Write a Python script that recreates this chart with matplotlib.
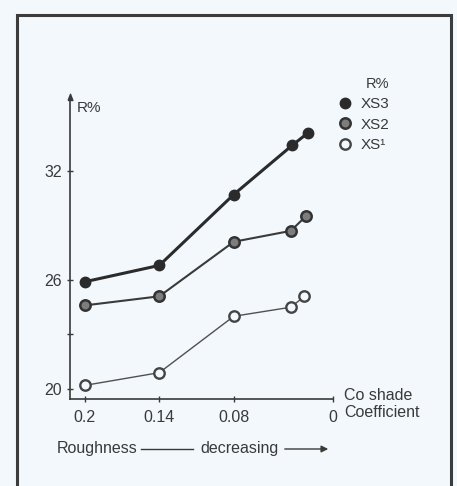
import matplotlib
matplotlib.use('Agg')
import matplotlib.pyplot as plt
from matplotlib.patches import Rectangle

plt.rcParams['font.family'] = ['Liberation Sans', 'DejaVu Sans']

# roughness coefficient and R% for each sample
x_xs3 = [0.2, 0.14, 0.08, 0.033, 0.020]
y_xs3 = [25.9, 26.8, 30.7, 33.4, 34.1]
x_xs2 = [0.2, 0.14, 0.08, 0.034, 0.022]
y_xs2 = [24.6, 25.1, 28.1, 28.7, 29.5]
x_xs1 = [0.2, 0.14, 0.08, 0.034, 0.023]
y_xs1 = [20.2, 20.9, 24.0, 24.5, 25.1]

xtick_vals = [0.2, 0.14, 0.08, 0]
xtick_text = ['0.2', '0.14', '0.08', '0']
ytick_vals = [20, 26, 32]

bg = '#f2f8fb'
ink = '#3a3a3a'
W, H = 457, 486

fig = plt.figure(figsize=(W / 100, H / 100), dpi=100, facecolor=bg)

# axes placed in pixel terms of the scan
ax = fig.add_axes([70 / W, (H - 399) / H, 263 / W, 299 / H], facecolor=bg)
ax.set_xlim(0.212, 0.0)
ax.set_ylim(19.45, 35.9)

ax.plot(x_xs3, y_xs3, '-o', color='#2b2b2b', lw=2.2, ms=7.5,
        mfc='#2b2b2b', mec='#2b2b2b', label='XS3', zorder=3)
ax.plot(x_xs2, y_xs2, '-o', color='#3a3a3a', lw=1.5, ms=7.5,
        mfc='#7d7d7d', mec='#333333', mew=1.8, label='XS2', zorder=3)
ax.plot(x_xs1, y_xs1, '-o', color='#505050', lw=1.0, ms=7.5,
        mfc=bg, mec='#444444', mew=1.7, label='XS\u00b9', zorder=3)

for s in ['top', 'right']:
    ax.spines[s].set_visible(False)
for s in ['left', 'bottom']:
    ax.spines[s].set_color(ink)
    ax.spines[s].set_linewidth(1.2)

ax.set_xticks(xtick_vals)
ax.set_xticklabels(xtick_text)
ax.set_yticks(ytick_vals)
ax.set_yticks([23], minor=True)
ax.tick_params(axis='both', which='both', direction='inout', length=4,
               width=1, color=ink, labelcolor=ink, labelsize=11.5)
ax.tick_params(axis='x', pad=6)
ax.tick_params(axis='y', pad=4)

# arrow head on the y axis and its label
ax.plot([0], [1], marker=[(-1.3, 0), (1.3, 0), (0, 3.4), (-1.3, 0)], ms=9,
        color=ink, transform=ax.transAxes, clip_on=False)
ax.text(0.025, 0.972, 'R%', transform=ax.transAxes, fontsize=11,
        color=ink, va='center', ha='left')

# x axis caption
fig.text(344 / W, 1 - 404 / H, 'Co shade\nCoefficient', fontsize=11.5,
         color=ink, ha='left', va='center', linespacing=1.2)

leg = ax.legend(loc='upper left', bbox_to_anchor=(327 / W, 1 - 66 / H),
                bbox_transform=fig.transFigure, frameon=False, title='R%',
                fontsize=11, title_fontsize=10.5, handlelength=0.9,
                handletextpad=0.6, labelspacing=0.42, borderpad=0.2)
for t in leg.get_texts():
    t.set_color(ink)
leg.get_title().set_color(ink)
leg._legend_box.align = 'right'
for h in leg.legend_handles:
    h.set_linestyle('none')

# bottom caption with arrows
fig.text(57 / W, 1 - 448 / H, 'Roughness', fontsize=11.5, color=ink,
         ha='left', va='center')
fig.text(200 / W, 1 - 448 / H, 'decreasing', fontsize=11.5, color=ink,
         ha='left', va='center')
fig.add_artist(plt.Line2D([141 / W, 193 / W], [1 - 449 / H, 1 - 449 / H],
                          color=ink, lw=1, transform=fig.transFigure))
fig.patches.append(matplotlib.patches.FancyArrowPatch(
    (282 / W, 1 - 449 / H), (331 / W, 1 - 449 / H),
    transform=fig.transFigure, arrowstyle='-|>', mutation_scale=10,
    color=ink, lw=1))

# frame round the figure
fig.patches.append(Rectangle((17 / W, -0.05), (451 - 17) / W,
                             1.05 - 15 / H, transform=fig.transFigure,
                             fill=False, edgecolor='#3c3c3c', lw=2.2))

fig.savefig('out.png', dpi=100, facecolor=bg)
